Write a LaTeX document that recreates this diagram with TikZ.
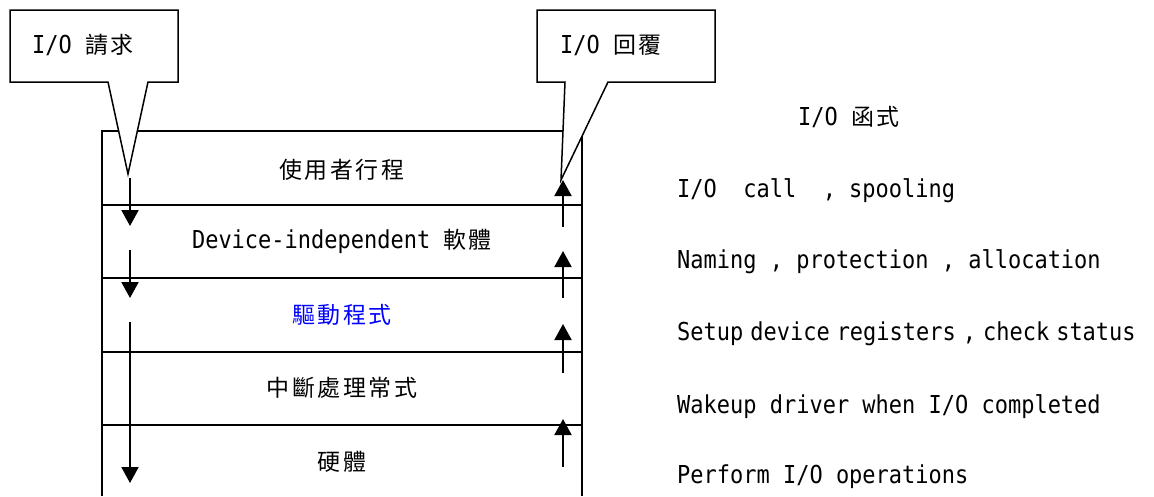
\documentclass[tikz,border=0pt]{standalone}
\usepackage{fontspec}
\usetikzlibrary{arrows.meta}
\newfontfamily\cjk{Noto Sans CJK TC}[Scale=0.93,LetterSpace=11]
\newfontfamily\lat{DejaVu Sans Mono}[FakeStretch=0.89]
\newcommand\cj[1]{{\cjk #1}}
\newcommand\nsp{\hspace{7pt}}
\tikzset{
  lbl/.style={inner sep=0pt, font=\fontsize{24.7}{28}\selectfont\lat},
  rowline/.style={line width=2pt},
  callbox/.style={draw, fill=white, line width=1.5pt, line join=miter},
  flow/.style={line width=2pt, -{Triangle[length=16pt,width=17pt]}},
}
\begin{document}
\begin{tikzpicture}[x=1pt,y=-1pt]
\useasboundingbox (0,0) rectangle (1154,496);
% main stack
\draw[rowline] (102,496) -- (102,131) -- (582,131) -- (582,496);
\foreach \yy in {205,278,352,425}
  \draw[rowline] (102,\yy) -- (582,\yy);
% row labels
\node[lbl] (r1) at (342,170) {\cj{使用者行程}};
\node[lbl] (r2) at (342,241) {Device-independent \cj{軟體}};
\node[lbl,text=blue] (r3) at (342,315) {\cj{驅動程式}};
\node[lbl] (r4) at (342,388) {\cj{中斷處理常式}};
\node[lbl] (r5) at (342,462) {\cj{硬體}};
% callouts
\draw[callbox] (10,10) -- (178,10) -- (178,82) -- (148,82) -- (128,174) -- (108,82) -- (10,82) -- cycle;
\node[lbl,anchor=west] (req) at (32,45) {I/O \cj{請求}};
\draw[callbox] (537,10) -- (715,10) -- (715,82) -- (608,82) -- (561,180) -- (565,82) -- (537,82) -- cycle;
\node[lbl,anchor=west] (rep) at (560,45) {I/O \cj{回覆}};
% down arrows
\coordinate (d1a) at (130,178); \coordinate (d1b) at (130,226);
\coordinate (d2a) at (130,250); \coordinate (d2b) at (130,298);
\coordinate (d3a) at (130,322); \coordinate (d3b) at (130,483);
\draw[flow] (d1a) -- (d1b);
\draw[flow] (d2a) -- (d2b);
\draw[flow] (d3a) -- (d3b);
% up arrows
\coordinate (u1a) at (563,227); \coordinate (u1b) at (563,180);
\coordinate (u2a) at (563,298); \coordinate (u2b) at (563,251);
\coordinate (u3a) at (563,373); \coordinate (u3b) at (563,324);
\coordinate (u4a) at (563,467); \coordinate (u4b) at (563,419);
\draw[flow] (u1a) -- (u1b);
\draw[flow] (u2a) -- (u2b);
\draw[flow] (u3a) -- (u3b);
\draw[flow] (u4a) -- (u4b);
% function column
\node[lbl,anchor=base west] (fh) at (798,125) {I/O \cj{函式}};
\node[lbl,anchor=base west] (f1) at (677,197) {I/O\ \ call\ \ ,\ spooling};
\node[lbl,anchor=base west] (f2) at (677,268) {Naming , protection , allocation};
\node[lbl,anchor=base west] (f3) at (677,340) {Setup\nsp device\nsp registers\nsp,\nsp check\nsp status};
\node[lbl,anchor=base west] (f4) at (677,413) {Wakeup driver when I/O completed};
\node[lbl,anchor=base west] (f5) at (677,483) {Perform I/O operations};
\end{tikzpicture}
\end{document}
